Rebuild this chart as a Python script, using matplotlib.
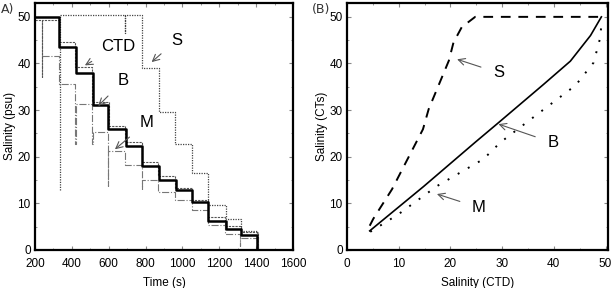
import matplotlib
matplotlib.use("Agg")
import matplotlib.pyplot as plt
from matplotlib.ticker import MultipleLocator

plt.rcParams['font.family'] = ['Liberation Sans', 'DejaVu Sans']

# ---- panel A: step records of salinity vs time ----
# B (thick solid)
b_time = [200, 332, 422, 513, 598, 694, 779, 875, 963, 1050, 1140, 1235, 1316, 1406, 1490]
b_sal = [50, 43.5, 38, 31, 26, 22.3, 18, 15, 12.8, 10.3, 6.3, 4.6, 3.2, 0, 0]

# CTD (thin dotted, with one dip near the start)
ctd_time = [200, 236, 238, 330, 420, 510, 600, 690, 780, 870, 960, 1050, 1140, 1230, 1320, 1410, 1490]
ctd_sal = [49.4, 37, 49.4, 44.6, 39.3, 31.8, 26.6, 23.2, 18.9, 15.8, 13.2, 10.8, 7.0, 5.2, 3.8, 0, 0]

# S (dotted, late drop)
s_time = [336, 338, 688, 690, 780, 872, 960, 1050, 1140, 1235, 1316, 1406, 1490]
s_sal = [12.8, 50.5, 46.6, 50.5, 39, 29.5, 22.7, 16.6, 9.7, 6.6, 4.1, 0, 0]

# M (dash-dot, lowest, with spikes)
m_time = [236, 330, 420, 423, 510, 513, 596, 599, 690, 780, 783, 870, 960, 1050, 1140, 1230, 1312, 1315, 1410]
m_sal = [41.6, 35.5, 22.7, 31.4, 22.7, 25.4, 13.7, 21.2, 18.2, 13, 15, 12.5, 10.7, 8.6, 5.3, 3.5, 0.9, 2.5, 0]

# ---- panel B: sensor salinity vs CTD salinity ----
sb_ctd = [4.4, 5.1, 8.7, 14.7, 15.8, 19.7, 20.6, 22.2, 24.8, 30, 40, 49.2]
sb_cts = [5.2, 6.7, 13, 25.9, 30.2, 40.6, 44.5, 47.8, 50, 50, 50, 50]

bb_ctd = [4.4, 14.8, 24.8, 29.3, 38, 43.2, 47.1, 49.2]
bb_cts = [4.1, 13.6, 23.1, 27.3, 35.5, 40.5, 46, 50]

mb_ctd = [4.5, 10, 17.4, 26.4, 29.7, 36.8, 44.2, 47.7, 48.9, 49.2]
mb_cts = [3.9, 7.7, 13.7, 19.5, 23.1, 29.1, 35.3, 40.2, 45.2, 48.1]


def style_axes(ax, major, minor):
    ax.xaxis.set_major_locator(MultipleLocator(major[0]))
    ax.xaxis.set_minor_locator(MultipleLocator(minor[0]))
    ax.yaxis.set_major_locator(MultipleLocator(major[1]))
    ax.yaxis.set_minor_locator(MultipleLocator(minor[1]))
    ax.tick_params(which='both', direction='in', top=True, right=True,
                   labelsize=8.5, color='#888888')
    ax.tick_params(axis='x', pad=6)
    ax.tick_params(axis='y', pad=3)
    ax.tick_params(which='major', length=3)
    ax.tick_params(which='minor', length=1.5)
    for sp in ax.spines.values():
        sp.set_linewidth(1.6)


def annotate(ax, text, xy, xytext):
    ax.annotate(text, xy=xy, xytext=xytext, fontsize=12, ha='center', va='center',
                arrowprops=dict(arrowstyle='->', color='#555555', lw=0.8,
                                shrinkA=7, shrinkB=0))


fig = plt.figure(figsize=(6.13, 2.88), dpi=100)
ax1 = fig.add_axes([0.057, 0.132, 0.421, 0.858])
ax2 = fig.add_axes([0.566, 0.132, 0.426, 0.858])

ax1.step(ctd_time, ctd_sal, where='post', color='#555555', lw=0.8, ls=(0, (2, 1)))
ax1.step(m_time, m_sal, where='post', color='#777777', lw=0.8, ls='-.')
ax1.step(s_time, s_sal, where='post', color='#444444', lw=0.9, ls=(0, (1, 1)))
ax1.step(b_time, b_sal, where='post', color='black', lw=1.8)
ax1.set_xlim(200, 1600)
ax1.set_ylim(0, 53)
style_axes(ax1, (200, 10), (100, 5))
ax1.set_xlabel('Time (s)', fontsize=8.5, labelpad=5)
ax1.set_ylabel('Salinity (psu)', fontsize=8.5, labelpad=1)
annotate(ax1, 'CTD', (471, 39.6), (650, 43.7))
annotate(ax1, 'B', (543, 30.9), (679, 36.3))
annotate(ax1, 'M', (634, 21.6), (806, 27.3))
annotate(ax1, 'S', (833, 40.3), (969, 45))

ax2.plot(sb_ctd, sb_cts, color='black', lw=1.4, ls=(0, (5, 4)))
ax2.plot(bb_ctd, bb_cts, color='black', lw=1.2)
ax2.plot(mb_ctd, mb_cts, color='black', lw=1.4, ls=(0, (1, 5)))
ax2.set_xlim(0, 50.5)
ax2.set_ylim(0, 53)
style_axes(ax2, (10, 10), (5, 5))
ax2.set_xlabel('Salinity (CTD)', fontsize=8.5, labelpad=5)
ax2.set_ylabel('Salinity (CTs)', fontsize=8.5, labelpad=1)
annotate(ax2, 'S', (21.3, 40.9), (29.3, 38))
annotate(ax2, 'B', (29.3, 27), (39.8, 23))
annotate(ax2, 'M', (17.4, 12), (25.5, 9.1))

fig.text(0.002, 0.955, 'A)', fontsize=9, color='#333333', family='Liberation Sans Narrow')
fig.text(0.509, 0.955, '(B)', fontsize=9, color='#333333', family='Liberation Sans Narrow')

fig.savefig('out.png', dpi=100)
